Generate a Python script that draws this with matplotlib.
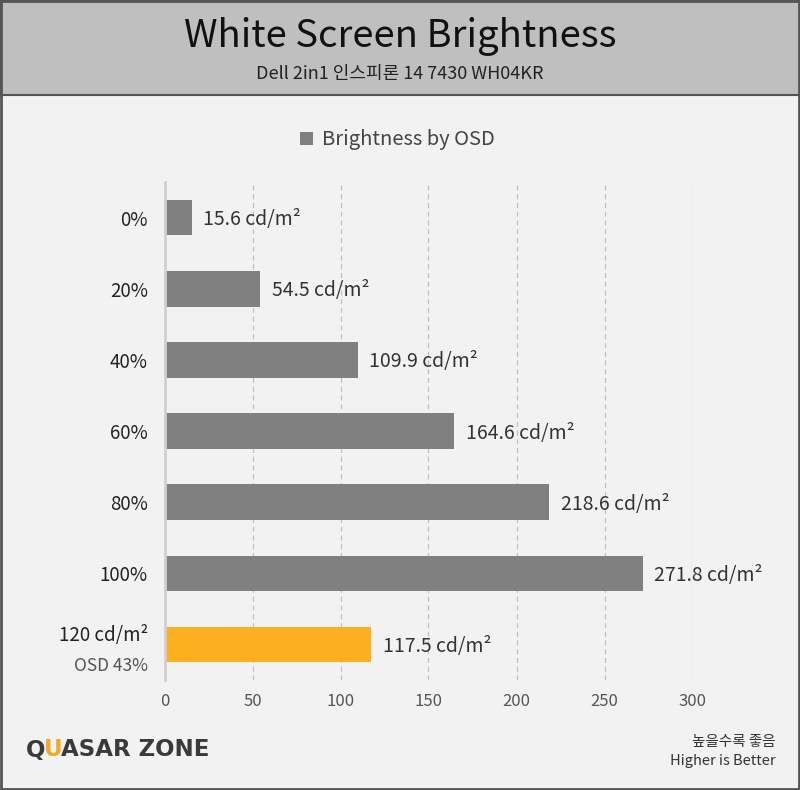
import matplotlib
matplotlib.use("Agg")
import matplotlib.pyplot as plt
from matplotlib.patches import Rectangle

plt.rcParams['font.family'] = ['Noto Sans CJK KR', 'DejaVu Sans']

categories = ["0%", "20%", "40%", "60%", "80%", "100%", "120 cd/m²"]
values = [15.6, 54.5, 109.9, 164.6, 218.6, 271.8, 117.5]
bar_colors = ["#808080"] * 6 + ["#fdb01f"]
xticks = [0, 50, 100, 150, 200, 250, 300]

W, H = 800, 790
fig = plt.figure(figsize=(W / 100, H / 100), dpi=100)
fig.patch.set_facecolor("#f2f2f2")

# header band
fig.patches.append(Rectangle((0, 1 - 95 / H), 1, 95 / H, transform=fig.transFigure,
                             facecolor="#bfbfbf", edgecolor="#555555", linewidth=1.5, zorder=0))
# outer border
fig.patches.append(Rectangle((0.001, 0.001), 0.998, 0.998, transform=fig.transFigure,
                             facecolor="none", edgecolor="#555555", linewidth=2, zorder=5))

fig.text(0.5, 1 - 37 / H, "White Screen Brightness", ha="center", va="center",
         fontsize=27.5, color="#111111")
fig.text(0.5, 1 - 74 / H, "Dell 2in1 인스피론 14 7430 WH04KR", ha="center", va="center",
         fontsize=13, color="#222222")

# axes
left, right = 164.5 / W, 692.5 / W
top, bottom = 182 / H, 680 / H
ax = fig.add_axes([left, 1 - bottom, right - left, bottom - top])
ax.set_facecolor("#f2f2f2")

ypos = list(range(len(categories)))
ax.barh(ypos, values, height=0.5, color=bar_colors, zorder=3)
ax.set_xlim(0, 300)
ax.set_ylim(len(categories) - 0.5, -0.5)
ax.set_xticks(xticks)
ax.set_xticklabels([str(t) for t in xticks], fontsize=12, color="#555555")
ax.tick_params(axis="x", length=0, pad=9)
ax.tick_params(axis="y", length=0, pad=12)
ax.set_yticks(ypos)
ax.set_yticklabels(["0%", "20%", "40%", "60%", "80%", "100%", ""], fontsize=13.5, color="#222222")
ax.grid(axis="x", linestyle=(0, (4, 3)), color="#c0c0c0", linewidth=0.9, zorder=1)
for s in ["top", "right", "bottom"]:
    ax.spines[s].set_visible(False)
ax.spines["left"].set_color("#d0d0d0")
ax.spines["left"].set_linewidth(2)
ax.spines["left"].set_zorder(4)

for y, v in zip(ypos, values):
    ax.text(v + 6.5, y + 0.03, f"{v:.1f} cd/m²", va="center", ha="left", fontsize=14, color="#333333")

# two-line label for last category
xlab = -16.5 * 300 / (right - left) / W
ax.text(xlab, 6 - 0.12, categories[6], ha="right", va="center",
        fontsize=13.5, color="#222222", clip_on=False)
ax.text(xlab, 6 + 0.30, "OSD 43%", ha="right", va="center",
        fontsize=12.5, color="#555555", clip_on=False)

# legend
fig.patches.append(Rectangle((300 / W, 1 - 145 / H), 13 / W, 13 / H, transform=fig.transFigure,
                             facecolor="#808080", edgecolor="none"))
fig.text(322 / W, 1 - 139 / H, "Brightness by OSD", ha="left", va="center",
         fontsize=14.5, color="#444444")

# logo
fig.text(26 / W, 1 - 750 / H, "Q", ha="left", va="center", fontsize=16.5, fontweight="bold",
         color="#3a3a3a", family="DejaVu Sans")
fig.text(44 / W, 1 - 750 / H, "U", ha="left", va="center", fontsize=16.5, fontweight="bold",
         color="#f5a623", family="DejaVu Sans")
fig.text(61 / W, 1 - 750 / H, "ASAR ZONE", ha="left", va="center", fontsize=16.5, fontweight="bold",
         color="#3a3a3a", family="DejaVu Sans")

fig.text(776 / W, 1 - 742 / H, "높을수록 좋음", ha="right", va="center", fontsize=10.5, color="#333333")
fig.text(776 / W, 1 - 761 / H, "Higher is Better", ha="right", va="center", fontsize=10.5, color="#333333")

fig.savefig("out.png", dpi=100, facecolor=fig.get_facecolor())
